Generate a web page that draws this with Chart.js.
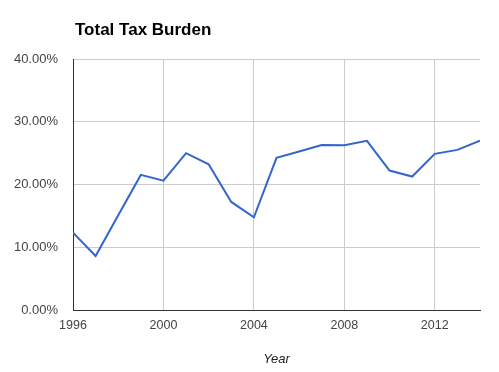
<!DOCTYPE html>
<html>
<head>
<meta charset="utf-8">
<script src="https://cdn.jsdelivr.net/npm/chart.js@4/dist/chart.umd.min.js"></script>
<style>
html,body{margin:0;padding:0;background:#fff;}
#wrap{width:499px;height:372px;position:relative;}
</style>
</head>
<body>
<div id="wrap"><canvas id="c" width="499" height="372"></canvas></div>
<script>
const chartTitle = "Total Tax Burden";
const xAxisTitle = "Year";
const years = [1996,1997,1998,1999,2000,2001,2002,2003,2004,2005,2006,2007,2008,2009,2010,2011,2012,2013,2014];
const taxBurden = [12.33,8.61,15.1,21.53,20.62,24.99,23.23,17.22,14.78,24.24,25.27,26.3,26.27,26.95,22.22,21.27,24.88,25.52,27.0];
const xTicks = [1996,2000,2004,2008,2012];
const yTicks = [0,10,20,30,40];

const FONT = "Arial, 'Liberation Sans', sans-serif";

const titlePlugin = {
  id: 'leftTitle',
  afterDraw(chart) {
    const ctx = chart.ctx;
    ctx.save();
    ctx.font = "bold 17px " + FONT;
    ctx.fillStyle = "#000";
    ctx.textBaseline = "alphabetic";
    ctx.textAlign = "left";
    ctx.fillText(chartTitle, chart.chartArea.left + 2, 35);
    ctx.restore();
  }
};

new Chart(document.getElementById('c'), {
  type: 'line',
  data: {
    datasets: [{
      data: years.map((y, i) => ({x: y, y: taxBurden[i]})),
      borderColor: '#3366CC',
      borderWidth: 2,
      pointRadius: 0,
      pointHoverRadius: 0,
      tension: 0,
      fill: false
    }]
  },
  options: {
    responsive: false,
    animation: false,
    devicePixelRatio: 1,
    layout: { padding: { top: 59, right: 19, left: 0, bottom: 0 } },
    plugins: { legend: { display: false }, tooltip: { enabled: false }, title: { display: false } },
    scales: {
      x: {
        type: 'linear',
        min: 1996, max: 2014,
        afterBuildTicks: s => { s.ticks = xTicks.map(v => ({value: v})); },
        afterFit: s => { s.height = 62; },
        grid: { color: '#cccccc', drawTicks: false },
        border: { color: '#333333', width: 1 },
        ticks: { padding: 8, color: '#444444', font: { family: FONT, size: 12.5 }, callback: v => String(v), maxRotation: 0 },
        title: { display: true, text: xAxisTitle, color: '#222222', font: { family: FONT, size: 13, style: 'italic' }, padding: { top: 0, bottom: 5 } }
      },
      y: {
        min: 0, max: 40,
        afterBuildTicks: s => { s.ticks = yTicks.map(v => ({value: v})); },
        afterFit: s => { s.width = 73; },
        grid: { color: c => c.tick && c.tick.value === 0 ? 'rgba(0,0,0,0)' : '#cccccc', drawTicks: false },
        border: { color: '#333333', width: 1 },
        ticks: { padding: 15, color: '#444444', font: { family: FONT, size: 13 }, callback: v => v.toFixed(2) + '%' }
      }
    }
  },
  plugins: [titlePlugin]
});
</script>
</body>
</html>
